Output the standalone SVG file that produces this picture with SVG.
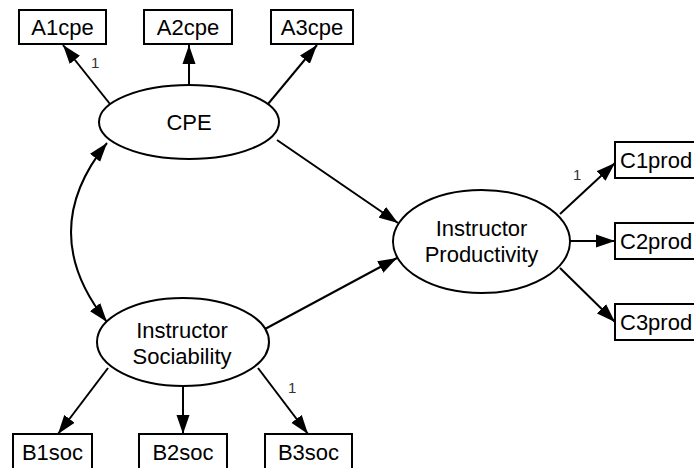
<svg xmlns="http://www.w3.org/2000/svg" width="694" height="468" viewBox="0 0 694 468">
<style>
.box{fill:#fff;stroke:#000;stroke-width:2}
.ell{fill:#fff;stroke:#000;stroke-width:2}
.t{font-family:"Liberation Sans",Arial,sans-serif;font-size:22px;fill:#000;text-anchor:middle}
.tl{font-family:"Liberation Sans",Arial,sans-serif;font-size:22px;fill:#000}
.n{font-family:"Liberation Sans",Arial,sans-serif;font-size:15px;fill:#333}
.c{fill:none;stroke:#000;stroke-width:2}
</style>
<defs>
<marker id="ah" markerUnits="userSpaceOnUse" markerWidth="20" markerHeight="14" refX="19" refY="7" orient="auto-start-reverse">
<path d="M0,0.5 L19,7 L0,13.5 z" fill="#000"/>
</marker>
</defs>
<g id="connectors">
<line class="c" x1="110" y1="104" x2="63" y2="45" marker-end="url(#ah)"/>
<line class="c" x1="189" y1="85" x2="189" y2="45" marker-end="url(#ah)"/>
<line class="c" x1="268" y1="104" x2="317" y2="45" marker-end="url(#ah)"/>
<line class="c" x1="277" y1="140" x2="398" y2="223" marker-end="url(#ah)"/>
<line class="c" x1="265" y1="329" x2="397" y2="258" marker-end="url(#ah)"/>
<path class="c" d="M107,143 Q35,232 107,322" marker-start="url(#ah)" marker-end="url(#ah)"/>
<line class="c" x1="560" y1="214" x2="615" y2="163" marker-end="url(#ah)"/>
<line class="c" x1="570" y1="241" x2="615" y2="241" marker-end="url(#ah)"/>
<line class="c" x1="560" y1="268" x2="615" y2="322" marker-end="url(#ah)"/>
<line class="c" x1="108" y1="368" x2="58" y2="434" marker-end="url(#ah)"/>
<line class="c" x1="183" y1="386" x2="183" y2="434" marker-end="url(#ah)"/>
<line class="c" x1="258" y1="368" x2="308" y2="434" marker-end="url(#ah)"/>
<text class="n" x="91" y="68">1</text>
<text class="n" x="573" y="180">1</text>
<text class="n" x="288" y="393">1</text>
</g>
<g id="A1cpe"><rect class="box" x="19" y="10" width="87" height="34"/><text class="t" x="62.5" y="35">A1cpe</text></g>
<g id="A2cpe"><rect class="box" x="144" y="10" width="88" height="34"/><text class="t" x="188" y="35">A2cpe</text></g>
<g id="A3cpe"><rect class="box" x="271" y="10" width="82" height="34"/><text class="t" x="312" y="35">A3cpe</text></g>
<g id="CPE"><ellipse class="ell" cx="189" cy="122" rx="90" ry="37"/><text class="t" x="189" y="130">CPE</text></g>
<g id="InstructorProductivity"><ellipse class="ell" cx="481.5" cy="241.5" rx="88.5" ry="51.5"/><text class="t" x="481.5" y="236">Instructor</text><text class="t" x="481.5" y="262">Productivity</text></g>
<g id="InstructorSociability"><ellipse class="ell" cx="183" cy="342" rx="86" ry="44"/><text class="t" x="182" y="338">Instructor</text><text class="t" x="182" y="364">Sociability</text></g>
<g id="C1prod"><rect class="box" x="615" y="142" width="100" height="36"/><text class="tl" x="620" y="168">C1prod</text></g>
<g id="C2prod"><rect class="box" x="615" y="223" width="100" height="36"/><text class="tl" x="620" y="249">C2prod</text></g>
<g id="C3prod"><rect class="box" x="615" y="304" width="100" height="36"/><text class="tl" x="620" y="330">C3prod</text></g>
<g id="B1soc"><rect class="box" x="13" y="434" width="79" height="40"/><text class="t" x="52.5" y="460">B1soc</text></g>
<g id="B2soc"><rect class="box" x="139" y="434" width="88" height="40"/><text class="t" x="183" y="460">B2soc</text></g>
<g id="B3soc"><rect class="box" x="265" y="434" width="87" height="40"/><text class="t" x="308.5" y="460">B3soc</text></g>
</svg>
